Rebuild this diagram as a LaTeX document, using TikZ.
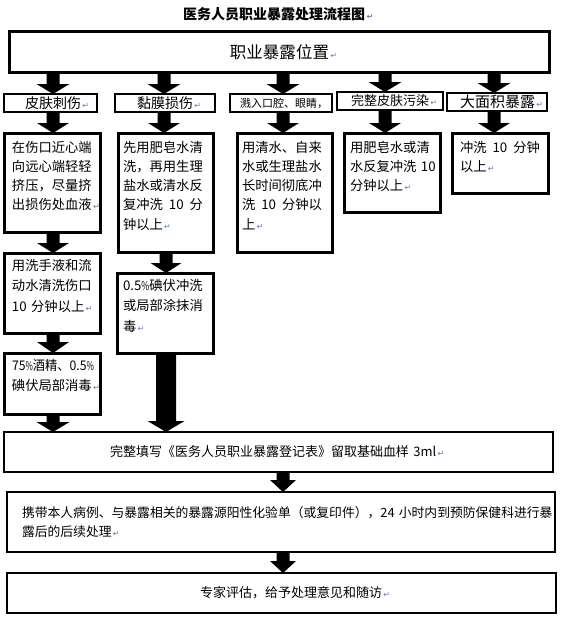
\documentclass[tikz,border=0pt]{standalone}
\usepackage{graphicx}
\usepackage{fontspec}
\setmainfont{Noto Sans CJK SC}
\newfontfamily\djv{DejaVu Sans}
\usetikzlibrary{calc}
\definecolor{pmblue}{RGB}{84,130,190}
\newcommand\pmk{{\djv\color{pmblue}\fontsize{8}{8}\selectfont\,↵}}
\newcommand\gap{\hspace{0.45em}}
\newcommand\pcnt{\scalebox{0.65}[0.9]{\%}}
% vertical block arrow: start, end, shaft half width, head half width, head length
\newcommand\varrow[5]{\fill let \p1=#1, \p2=#2 in
  (\x1-#3,\y1) -- (\x1+#3,\y1) -- (\x1+#3,\y2+#5) -- (\x1+#4,\y2+#5) --
  (\x1,\y2) -- (\x1-#4,\y2+#5) -- (\x1-#3,\y2+#5) -- cycle;}
\tikzset{
  tb/.style={draw, anchor=north west, inner sep=0pt, outer sep=0pt, align=left},
  lwthick/.style={line width=3pt},
  lwmid/.style={line width=2pt},
  fbody/.style={font=\fontsize{13.3}{19.3}\selectfont},
  frow4/.style={font=\fontsize{13.3}{20.5}\selectfont},
}
\begin{document}
\begin{tikzpicture}[x=1pt, y=-1pt]
\useasboundingbox (0,0) rectangle (560,618);
\fill[white] (0,0) rectangle (560,618);

% title
\node[anchor=base west, inner sep=0pt, font=\fontsize{14}{16}\selectfont\bfseries] (title) at (183,19.3) {医务人员职业暴露处理流程图\pmk};

% top box
\node[tb, lwthick, text width=540pt, text height=26.3pt, text depth=13.7pt, font=\fontsize{16.5}{20}\selectfont] (top) at (9,32) {\leftskip=221pt 职业暴露位置\pmk\par};

% row 2
\node[tb, lwmid, text width=93pt, text height=14.3pt, text depth=3.7pt, font=\fontsize{14}{16}\selectfont] (r2a) at (4,94) {\leftskip=21pt 皮肤刺伤\pmk\par};
\node[tb, lwmid, text width=100pt, text height=14.3pt, text depth=3.7pt, font=\fontsize{14}{16}\selectfont] (r2b) at (115,94) {\leftskip=22pt 黏膜损伤\pmk\par};
\node[tb, lwmid, text width=102pt, text height=13.2pt, text depth=4.8pt, font=\fontsize{11}{13}\selectfont] (r2c) at (230,94) {\leftskip=10pt 溅入口腔、眼睛，\par};
\node[tb, lwmid, text width=106pt, text height=13.9pt, text depth=4.1pt, font=\fontsize{13}{15}\selectfont] (r2d) at (337,92) {\leftskip=14pt 完整皮肤污染\pmk\par};
\node[tb, lwmid, text width=100pt, text height=14.7pt, text depth=3.3pt, font=\fontsize{15}{17}\selectfont] (r2e) at (447,93) {\leftskip=13pt 大面积暴露\pmk\par};

% row 3
\node[tb, lwthick, fbody, text width=96pt, text height=19pt, text depth=80pt] (s3a) at (4,133)
  {\leftskip=8pt 在伤口近心端\\向远心端轻轻\\挤压，尽量挤\\出损伤处血液\pmk\par};
\node[tb, lwthick, fbody, text width=95pt, text height=19pt, text depth=100pt] (s3b) at (118,133)
  {\leftskip=5pt 先用肥皂水清\\洗，再用生理\\盐水或清水反\\复冲洗\gap 10\gap 分\\钟以上\pmk\par};
\node[tb, lwthick, fbody, text width=95pt, text height=19pt, text depth=100pt] (s3c) at (237,133)
  {\leftskip=5pt 用清水、自来\\水或生理盐水\\长时间彻底冲\\洗\gap 10\gap 分钟以\\上\pmk\par};
\node[tb, lwthick, fbody, text width=96pt, text height=19pt, text depth=60pt] (s3d) at (344,133)
  {\leftskip=6pt 用肥皂水或清\\水反复冲洗 10\\分钟以上\pmk\par};
\node[tb, lwthick, fbody, text width=96pt, text height=19pt, text depth=41pt] (s3e) at (452,133)
  {\leftskip=8pt 冲洗\gap 10\gap 分钟\\以上\pmk\par};

% row 4
\node[tb, lwthick, frow4, text width=96pt, text height=17pt, text depth=63pt] (s4a) at (4,253)
  {\leftskip=8pt 用洗手液和流\\动水清洗伤口\\10 分钟以上\pmk\par};
\node[tb, lwthick, frow4, text width=96pt, text height=17pt, text depth=63pt] (s4b) at (117,273)
  {\leftskip=6pt 0.5\pcnt 碘伏冲洗\\或局部涂抹消\\毒\pmk\par};
\node[tb, lwthick, frow4, text width=96pt, text height=17pt, text depth=44pt] (s5a) at (4,353)
  {\leftskip=8pt \scalebox{0.92}[1]{75\pcnt 酒精、0.5\pcnt}\\碘伏局部消毒\pmk\par};

% bottom boxes
\node[tb, lwmid, text width=549pt, text height=24.9pt, text depth=15.1pt, font=\fontsize{13}{15}\selectfont] (f1) at (4,432)
  {\leftskip=106pt 完整填写《医务人员职业暴露登记表》留取基础血样 3ml\pmk\par};
\node[tb, lwmid, text width=548pt, text height=25.9pt, text depth=34.1pt, font=\fontsize{12.8}{19}\selectfont] (f2) at (7,492)
  {\leftskip=15pt \mbox{携带本人病例、与暴露相关的暴露源阳性化验单（或复印件），24 小时内到预防保健科进行暴}\\露后的后续处理\pmk\par};
\node[tb, lwmid, text width=549pt, text height=24.9pt, text depth=15.1pt, font=\fontsize{13}{15}\selectfont] (f3) at (7,573)
  {\leftskip=193pt 专家评估，给予处理意见和随访\pmk\par};

% arrow x positions
\coordinate (xa) at (53,0);
\coordinate (xb) at (164,0);
\coordinate (xc) at (283,0);
\coordinate (xd) at (385,0);
\coordinate (xe) at (494,0);
\coordinate (xb2) at (166,0);
\coordinate (xm) at (283,0);

% arrows top -> row 2
\varrow{(top.south -| xa)}{(r2a.north -| xa)}{6.5pt}{16.5pt}{10pt}
\varrow{(top.south -| xb)}{(r2b.north -| xb)}{6.5pt}{16.5pt}{10pt}
\varrow{(top.south -| xc)}{(r2c.north -| xc)}{6.5pt}{16.5pt}{10pt}
\varrow{(top.south -| xd)}{(r2d.north -| xd)}{6.5pt}{16.5pt}{10pt}
\varrow{(top.south -| xe)}{(r2e.north -| xe)}{6.5pt}{16.5pt}{10pt}
% row 2 -> row 3
\varrow{(r2a.south -| xa)}{(s3a.north -| xa)}{6.5pt}{16pt}{10pt}
\varrow{(r2b.south -| xb)}{(s3b.north -| xb)}{6.5pt}{16pt}{10pt}
\varrow{(r2c.south -| xc)}{(s3c.north -| xc)}{6.5pt}{16pt}{10pt}
\varrow{(r2d.south -| xd)}{(s3d.north -| xd)}{6.5pt}{16pt}{10pt}
\varrow{(r2e.south -| xe)}{(s3e.north -| xe)}{6.5pt}{16pt}{10pt}
% row 3 -> row 4 and below
\varrow{(s3a.south -| xa)}{(s4a.north -| xa)}{6.5pt}{16pt}{10pt}
\varrow{(s3b.south -| xb2)}{(s4b.north -| xb2)}{6.5pt}{15.5pt}{10pt}
\varrow{(s4a.south -| xa)}{(s5a.north -| xa)}{6.5pt}{16pt}{11pt}
\varrow{(s5a.south -| xa)}{(f1.north -| xa)}{6.5pt}{16.5pt}{10pt}
\varrow{(s4b.south -| xb2)}{(f1.north -| xb2)}{10pt}{18.5pt}{11pt}
% bottom chain
\varrow{(f1.south -| xm)}{(f2.north -| xm)}{6.5pt}{13pt}{12pt}
\varrow{(f2.south -| xm)}{(f3.north -| xm)}{6.5pt}{13pt}{12pt}
\end{tikzpicture}
\end{document}
